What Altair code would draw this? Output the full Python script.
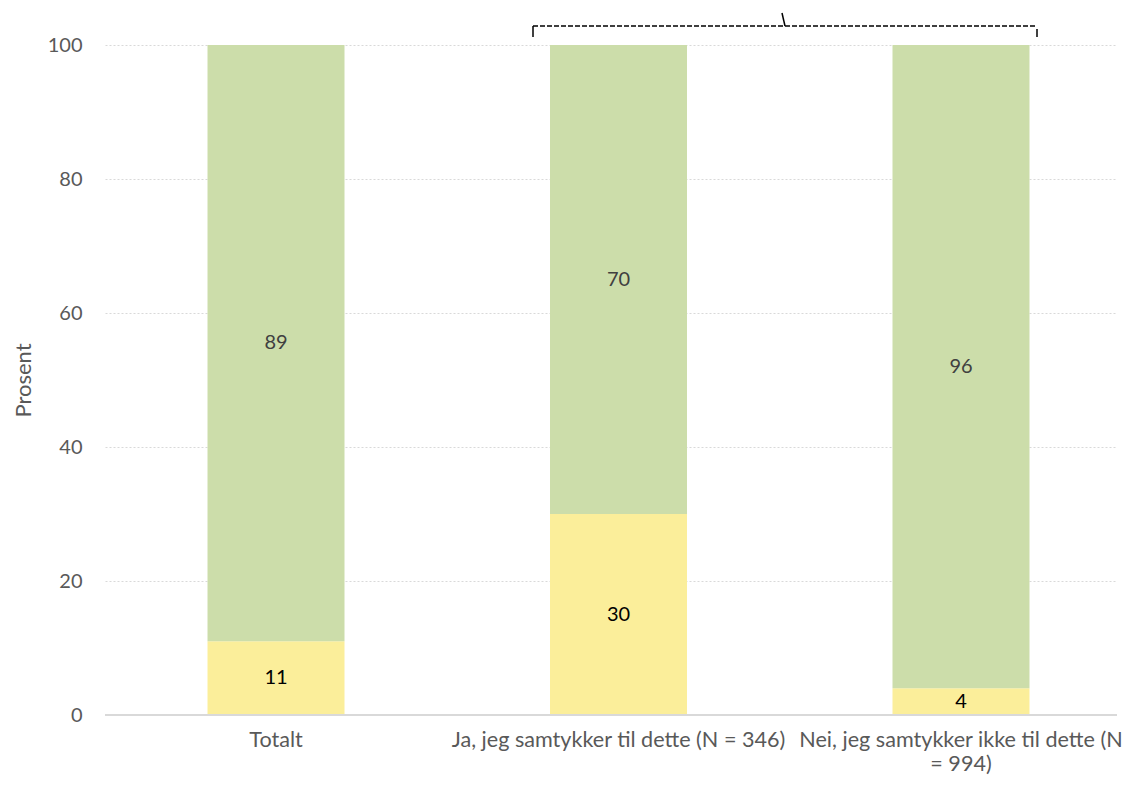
import altair as alt
import pandas as pd

categories = ["Totalt", "Ja, jeg samtykker til dette (N = 346)", "Nei, jeg samtykker ikke til dette (N = 994)"]
series = ["Ja", "Nei"]
ja_values = [11, 30, 4]
nei_values = [89, 70, 96]
colors = ["#FBEE9A", "#CCDDAA"]
text_colors = ["#000000", "#404040"]

rows = []
for i, c in enumerate(categories):
    base = 0
    for s, vals in zip(series, [ja_values, nei_values]):
        v = vals[i]
        rows.append({"cat": c, "serie": s, "value": v, "y0": base, "y1": base + v,
                     "mid": base + v / 2})
        base += v
df = pd.DataFrame(rows)

FONT = "Lato"

x = alt.X("cat:N", sort=categories, title=None,
          scale=alt.Scale(paddingInner=0.6, paddingOuter=0.2774, align=0.5395),
          axis=alt.Axis(labelAngle=0, labelFontSize=21.6, labelColor="#595959", labelFont=FONT,
                        labelPadding=14, domain=False, ticks=False, labelLimit=400,
                        labelLineHeight=24, labelBaseline="top",
                        labelExpr="datum.label == 'Nei, jeg samtykker ikke til dette (N = 994)' ? ['Nei, jeg samtykker ikke til dette (N', '= 994)'] : datum.label"))

y = alt.Y("y0:Q", title="Prosent", scale=alt.Scale(domain=[0, 100], nice=False),
          axis=alt.Axis(values=[0, 20, 40, 60, 80, 100], labelFontSize=20, labelColor="#595959",
                        labelFont=FONT, labelPadding=23, titleFont=FONT, titleFontSize=22,
                        titleColor="#595959", titleFontWeight="normal", titlePadding=12,
                        domain=False, ticks=False, grid=True, gridColor="#D9D9D9",
                        gridDash=[2, 2], gridWidth=1))

bars = alt.Chart(df).mark_bar().encode(
    x=x,
    y=y,
    y2="y1:Q",
    color=alt.Color("serie:N", scale=alt.Scale(domain=series, range=colors), legend=None),
)

labels = alt.Chart(df).mark_text(fontSize=20, font=FONT, baseline="middle").encode(
    x=alt.X("cat:N", sort=categories),
    y=alt.Y("mid:Q"),
    text=alt.Text("value:Q"),
    color=alt.Color("serie:N", scale=alt.Scale(domain=series, range=text_colors), legend=None),
)

zero_df = pd.DataFrame({"v": [0]})
zero = alt.Chart(zero_df).mark_rule(color="#D9D9D9", strokeWidth=2).encode(y="v:Q")

# bracket annotation above the plot
br_h = alt.Chart(zero_df).mark_rule(color="#000000", strokeDash=[5, 2], strokeWidth=1.5).encode(
    x=alt.value(428), x2=alt.value(932), y=alt.value(-19))
br_l = alt.Chart(zero_df).mark_rule(color="#000000", strokeWidth=1.5).encode(
    x=alt.value(428), y=alt.value(-19), y2=alt.value(-8))
br_r = alt.Chart(zero_df).mark_rule(color="#000000", strokeWidth=1.5).encode(
    x=alt.value(932), y=alt.value(-16), y2=alt.value(-8))
br_c = alt.Chart(zero_df).mark_rule(color="#000000", strokeWidth=1.5).encode(
    x=alt.value(677), x2=alt.value(680), y=alt.value(-32), y2=alt.value(-19))

chart = alt.layer(bars, labels, zero, br_h, br_l, br_r, br_c).resolve_scale(color="independent").properties(
    width=1012, height=670,
    autosize=alt.AutoSizeParams(type="none"),
    padding={"left": 97, "top": 37, "right": 8, "bottom": 62},
    background="white",
).configure_view(stroke="transparent")

chart.save("out.html", embed_options={"renderer": "svg", "actions": False})
